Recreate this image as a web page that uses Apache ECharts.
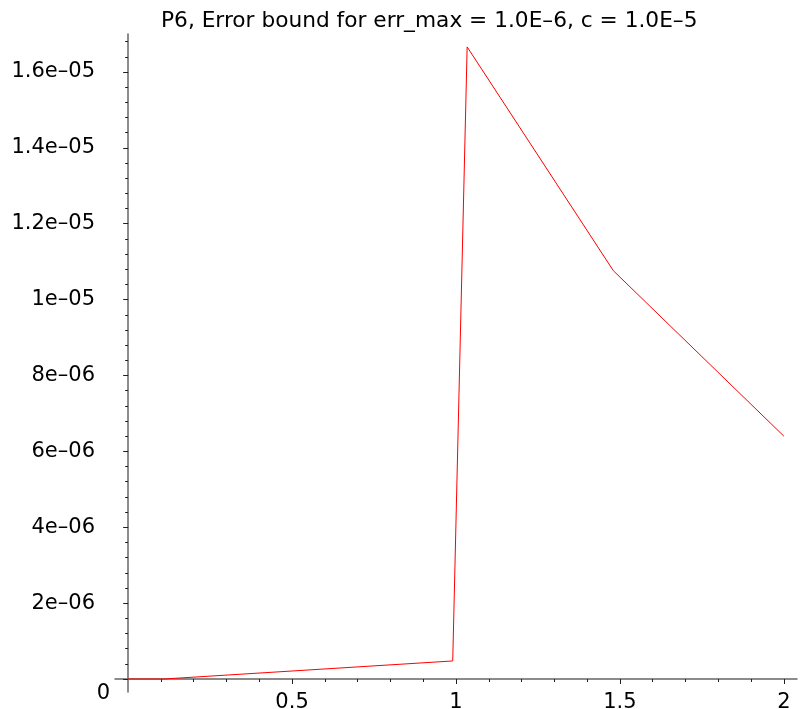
<!DOCTYPE html>
<html>
<head>
<meta charset="utf-8">
<script src="https://cdn.jsdelivr.net/npm/echarts@6/dist/echarts.min.js"></script>
<style>html,body{margin:0;padding:0;background:#fff}#c{width:804px;height:709px}</style>
</head>
<body>
<div id="c"></div>
<script>
const titleText = 'P6, Error bound for err_max = 1.0E\u20136, c = 1.0E\u20135';
const xValues = [0, 0.11, 0.99, 1.034, 1.48, 2.0];
const yValues = [0, 0, 4.75e-7, 1.666e-5, 1.076e-5, 6.40e-6];
const xTickValues = [0.5, 1, 1.5, 2];
const xTickLabels = ['0.5', '1', '1.5', '2'];
const yTickValues = [0, 2e-6, 4e-6, 6e-6, 8e-6, 1e-5, 1.2e-5, 1.4e-5, 1.6e-5];
const yTickLabels = ['0', '2e\u201306', '4e\u201306', '6e\u201306', '8e\u201306', '1e\u201305', '1.2e\u201305', '1.4e\u201305', '1.6e\u201305'];

const FONT = 'DejaVu Sans';
const xMinor = [];
for (let i = 1; i <= 20; i++) xMinor.push(+(i * 0.1).toFixed(2));
const yMinor = [];
for (let i = 1; i <= 42; i++) yMinor.push(+(i * 4e-7).toPrecision(6));

function labelFor(vals, labels) {
  return function (v) {
    for (let i = 0; i < vals.length; i++) {
      if (Math.abs(vals[i] - v) < 1e-12 * (1 + Math.abs(vals[i]) * 1e6)) {
        return labels[i] === '0' ? '{z|0}' : labels[i];
      }
    }
    return '';
  };
}

const xRange = { min: -0.04, max: 2.04 };
const yRange = { min: -0.343e-6, max: 1.7e-5 };
const lineColor = '#666';
const tickColor = '#222';

const chart = echarts.init(document.getElementById('c'), null, { renderer: 'canvas' });
chart.setOption({
  animation: false,
  backgroundColor: '#fff',
  title: {
    text: titleText,
    left: 161, top: 10, padding: 0,
    textStyle: { fontFamily: FONT, fontSize: 21.7, fontWeight: 'normal', color: '#000' }
  },
  grid: { left: 115, right: 7, top: 34, bottom: 17, containLabel: false, outerBoundsMode: 'none' },
  xAxis: [
    {
      type: 'value', position: 'bottom', min: xRange.min, max: xRange.max,
      axisLine: { show: true, onZero: true, lineStyle: { color: lineColor, width: 1.5 } },
      axisTick: { show: true, length: 5, customValues: xTickValues, lineStyle: { color: tickColor } },
      axisLabel: { show: true, customValues: xTickValues, margin: 0, formatter: labelFor(xTickValues, xTickLabels),
        fontFamily: FONT, fontSize: 21, color: '#000' },
      splitLine: { show: false }
    },
    {
      type: 'value', position: 'bottom', min: xRange.min, max: xRange.max,
      axisLine: { show: false, onZero: true },
      axisTick: { show: true, length: 3, customValues: xMinor, lineStyle: { color: tickColor } },
      axisLabel: { show: false },
      splitLine: { show: false }
    }
  ],
  yAxis: [
    {
      type: 'value', position: 'left', min: yRange.min, max: yRange.max,
      axisLine: { show: true, onZero: true, lineStyle: { color: lineColor, width: 1.5 } },
      axisTick: { show: true, length: 5, customValues: yTickValues, lineStyle: { color: tickColor } },
      axisLabel: { show: true, customValues: yTickValues, margin: 20, formatter: labelFor(yTickValues, yTickLabels),
        fontFamily: FONT, fontSize: 21, color: '#000',
        rich: { z: { fontFamily: FONT, fontSize: 21, color: '#000', padding: [30, -15, 0, 0] } } },
      splitLine: { show: false }
    },
    {
      type: 'value', position: 'left', min: yRange.min, max: yRange.max,
      axisLine: { show: false, onZero: true },
      axisTick: { show: true, length: 3, customValues: yMinor, lineStyle: { color: tickColor } },
      axisLabel: { show: false },
      splitLine: { show: false }
    }
  ],
  series: [{
    type: 'line',
    xAxisIndex: 0, yAxisIndex: 0,
    data: xValues.map((x, i) => [x, yValues[i]]),
    showSymbol: false,
    symbol: 'none',
    lineStyle: { color: '#ff0000', width: 1 },
    z: 1
  }]
});
</script>
</body>
</html>
